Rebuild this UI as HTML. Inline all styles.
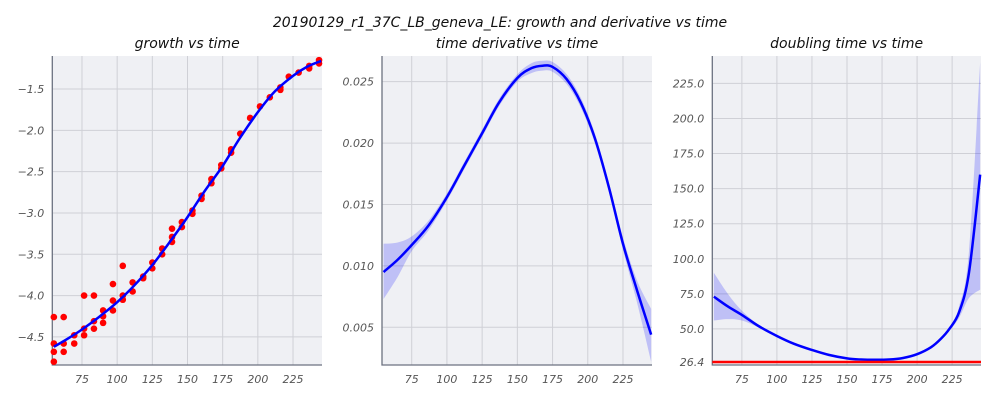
<!DOCTYPE html>
<html><head><meta charset="utf-8"><style>
body{margin:0;background:#fff;}
svg{display:block;font-family:"DejaVu Sans","Liberation Sans",sans-serif;font-style:italic;}
</style></head><body>
<svg id="chart" width="1000" height="400" viewBox="0 0 1000 400" xmlns="http://www.w3.org/2000/svg">
<text x="500" y="27" text-anchor="middle" font-size="14" fill="#111">20190129_r1_37C_LB_geneva_LE: growth and derivative vs time</text>
</svg>
<script>
// ---- data ----
const xTicks = [75,100,125,150,175,200,225];
const growthTicks = [-1.5,-2.0,-2.5,-3.0,-3.5,-4.0,-4.5];
const derivTicks = [0.025,0.020,0.015,0.010,0.005];
const dblTicks = [225,200,175,150,125,100,75,50,26.4];

const pointX = [55,55,55,55,62,62,62,69.5,69.5,76.5,76.5,76.5,83.5,83.5,83.5,90,90,90,97,97,97,104,104,104,111,111,118.5,118.5,125,125,132,132,139,139,139,146,146,153.5,153.5,160,160,167,167,174,174,181,181,187.5,194.5,201.5,208.5,216,216,222,229,236.5,236.5,243.5,243.5];
const pointY = [-4.26,-4.58,-4.68,-4.80,-4.26,-4.58,-4.68,-4.48,-4.58,-4.0,-4.4,-4.48,-4.0,-4.31,-4.4,-4.18,-4.25,-4.33,-3.86,-4.06,-4.18,-3.64,-4.0,-4.05,-3.84,-3.95,-3.77,-3.79,-3.6,-3.67,-3.43,-3.5,-3.19,-3.29,-3.35,-3.11,-3.17,-2.97,-3.01,-2.79,-2.83,-2.59,-2.64,-2.42,-2.46,-2.23,-2.27,-2.04,-1.85,-1.71,-1.6,-1.48,-1.51,-1.35,-1.3,-1.22,-1.25,-1.15,-1.19];

const growthX = [55,65,75,87,100,112,125,137,150,162,175,187,200,212,225,235,245];
const growthY = [-4.62,-4.52,-4.41,-4.26,-4.08,-3.88,-3.63,-3.36,-3.05,-2.74,-2.43,-2.1,-1.78,-1.53,-1.34,-1.23,-1.16];

const derivX = [55,65,75,87,100,112,125,137,150,160,168,175,185,195,205,215,225,235,245];
const derivY = [0.0095,0.0105,0.0117,0.0133,0.0156,0.0181,0.0208,0.0233,0.0253,0.0261,0.0263,0.0262,0.0252,0.0233,0.0204,0.0164,0.0118,0.0080,0.0044];
const derivHi = [0.0118,0.0119,0.0124,0.0137,0.0159,0.0184,0.0211,0.0236,0.0256,0.0265,0.0267,0.0266,0.0256,0.0237,0.0208,0.0168,0.0123,0.0088,0.0065];
const derivLo = [0.0073,0.0091,0.0112,0.0129,0.0153,0.0178,0.0205,0.0230,0.0250,0.0257,0.0259,0.0258,0.0248,0.0229,0.0200,0.0160,0.0113,0.0070,0.0022];

const dblX = [55,65,75,87,100,112,125,137,150,160,170,180,190,200,210,217,223,230,237,245];
const dblY = [73,66,60,52,45,39.5,35,31.5,29,28.2,28,28.2,29.3,32,37,43,50,62,90,160];
const dblHi = [90,75,63,53,45.5,40,35.5,32,29.5,28.6,28.4,28.6,29.8,32.6,37.8,44,51,66,105,240];
const dblLo = [56,57,56,51,44.5,39,34.5,31,28.5,27.8,27.6,27.8,28.8,31.4,36.2,42,48.5,58,72,78];
const refLine = 26.4;

// ---- drawing ----
const svg = document.getElementById('chart');
const NS = 'http://www.w3.org/2000/svg';
function mk(tag, attrs, parent){const e=document.createElementNS(NS,tag);for(const k in attrs)e.setAttribute(k,attrs[k]);(parent||svg).appendChild(e);return e;}

const X0=53.9, X1=245.6;
function makePanel(left, right, top, bottom, yMin, yMax){
  return {
    x: v => left + (v - X0)/(X1 - X0)*(right-left),
    y: v => bottom - (v - yMin)/(yMax - yMin)*(bottom-top),
    left, right, top, bottom
  };
}
function drawAxes(p, name, title, yTicks, fmt){
  const g = mk('g',{});
  
  
  const bg = mk('rect',{x:p.left,y:p.top,width:p.right-p.left,height:p.bottom-p.top,fill:'#eff0f4'},g);
  
  
  xTicks.forEach(t=>{
    const xx=p.x(t);
    const l=mk('line',{x1:xx,x2:xx,y1:p.top,y2:p.bottom,stroke:'#cfd0d6','stroke-width':1},g);
    
    
    const tx=mk('text',{x:xx,y:p.bottom+18,'text-anchor':'middle','font-size':11,fill:'#555'},g);
    
    
    tx.textContent=t;
  });
  yTicks.forEach(t=>{
    const yy=p.y(t);
    const l=mk('line',{x1:p.left,x2:p.right,y1:yy,y2:yy,stroke:'#cfd0d6','stroke-width':1},g);
    
    
    const tx=mk('text',{x:p.left-8,y:yy+4,'text-anchor':'end','font-size':11,fill:'#555'},g);
    
    
    tx.textContent=fmt(t);
  });
  const sp=mk('path',{d:`M${p.left},${p.top}V${p.bottom}H${p.right}`,fill:'none',stroke:'#6c7280','stroke-width':1.3},g);
  
  
  const tt=mk('text',{x:(p.left+p.right)/2,y:p.top-8,'text-anchor':'middle','font-size':14,fill:'#111'},g);
  
  
  tt.textContent=title;
}
// Catmull-Rom smoothed path through screen points
function smooth(pts, start){
  let d=(start?'M':'L')+pts[0][0].toFixed(2)+','+pts[0][1].toFixed(2);
  for(let i=0;i<pts.length-1;i++){
    const p0=pts[Math.max(0,i-1)],p1=pts[i],p2=pts[i+1],p3=pts[Math.min(pts.length-1,i+2)];
    const c1=[p1[0]+(p2[0]-p0[0])/6,p1[1]+(p2[1]-p0[1])/6];
    const c2=[p2[0]-(p3[0]-p1[0])/6,p2[1]-(p3[1]-p1[1])/6];
    d+='C'+c1[0].toFixed(2)+','+c1[1].toFixed(2)+' '+c2[0].toFixed(2)+','+c2[1].toFixed(2)+' '+p2[0].toFixed(2)+','+p2[1].toFixed(2);
  }
  return d;
}
function linePath(p, xs, ys){return smooth(xs.map((v,i)=>[p.x(v),p.y(ys[i])]),true);}
function bandPath(p, xs, hi, lo){
  const top=xs.map((v,i)=>[p.x(v),p.y(hi[i])]);
  const bot=xs.map((v,i)=>[p.x(v),p.y(lo[i])]).reverse();
  return smooth(top,true)+smooth(bot,false)+'Z';
}
function fmtMinus(t){return t.toFixed(1).replace('-','\u2212');}

// Panel 1
const p1 = makePanel(52.3,322,56,365,-4.84,-1.10);
drawAxes(p1,'growth-panel','growth vs time',growthTicks,fmtMinus);
pointX.forEach((v,i)=>{
  const c=mk('circle',{cx:p1.x(v),cy:p1.y(pointY[i]),r:3.3,fill:'#ff0000'});
  
  
});
const g1=mk('path',{d:linePath(p1,growthX,growthY),fill:'none',stroke:'#0000ff','stroke-width':2.5});



// Panel 2
const p2 = makePanel(382,652,56,365,0.00193,0.02709);
drawAxes(p2,'derivative-panel','time derivative vs time',derivTicks,t=>t.toFixed(3));
const b2=mk('path',{d:bandPath(p2,derivX,derivHi,derivLo),fill:'#0000ff','fill-opacity':0.2,stroke:'none'});


const l2=mk('path',{d:linePath(p2,derivX,derivY),fill:'none',stroke:'#0000ff','stroke-width':2.5});



// Panel 3
const p3 = makePanel(712.3,981,56,365,24.3,244.5);
drawAxes(p3,'doubling-panel','doubling time vs time',dblTicks,t=>t.toFixed(1));
const b3=mk('path',{d:bandPath(p3,dblX,dblHi,dblLo),fill:'#0000ff','fill-opacity':0.2,stroke:'none'});


const l3=mk('path',{d:linePath(p3,dblX,dblY),fill:'none',stroke:'#0000ff','stroke-width':2.5});


const r3=mk('line',{x1:p3.left,x2:p3.right,y1:p3.y(refLine),y2:p3.y(refLine),stroke:'#ff0000','stroke-width':2.5});


</script>
</body></html>
